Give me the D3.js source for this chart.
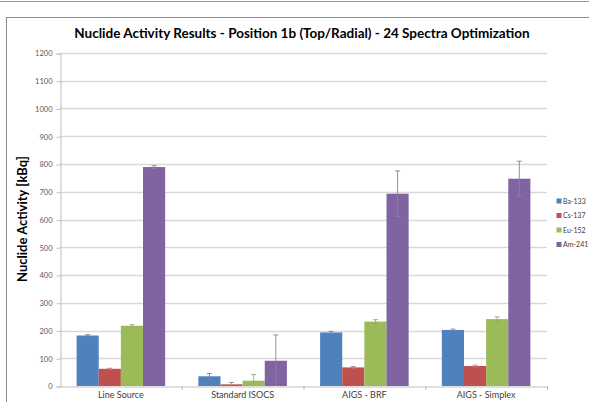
<!DOCTYPE html>
<html>
<head>
<meta charset="utf-8">
<script src="https://cdn.jsdelivr.net/npm/d3@7"></script>
<style>
  html, body { margin: 0; padding: 0; background: #fff; }
  svg { display: block; }
</style>
</head>
<body>
<script>
// Activity measurements per method, one array per nuclide (kBq) with 1-sigma errors
const categories = ["Line Source", "Standard ISOCS", "AIGS - BRF", "AIGS - Simplex"];
const nuclides = ["Ba-133", "Cs-137", "Eu-152", "Am-241"];
const ba133 = [182, 35, 193, 202];
const cs137 = [62, 6, 67, 72];
const eu152 = [217, 19, 232, 241];
const am241 = [789, 91, 693, 747];
const ba133Err = [3, 10, 4, 3];
const cs137Err = [2, 7, 3, 3];
const eu152Err = [4, 22, 7, 8];
const am241Err = [5, 93, 82, 63];
const yTicks = [0, 100, 200, 300, 400, 500, 600, 700, 800, 900, 1000, 1100, 1200];
const colors = ["#4F81BD", "#C0504D", "#9BBB59", "#8064A2"];
const errColors = ["#6f86a6", "#b77a78", "#93a86e", "#8d7ea3"];

const seriesValues = [ba133, cs137, eu152, am241];
const seriesErrors = [ba133Err, cs137Err, eu152Err, am241Err];

const W = 589, H = 402;
const FONT = "Lato, 'Liberation Sans', Arial, sans-serif";
const svg = d3.select("body").append("svg").attr("width", W).attr("height", H);

// outer frames
svg.append("line").attr("x1", 0).attr("x2", W).attr("y1", 1.5).attr("y2", 1.5)
  .attr("stroke", "#9a9a9a").attr("stroke-width", 1);
svg.append("rect").attr("x", 6.5).attr("y", 17.5).attr("width", W).attr("height", H)
  .attr("fill", "#fff").attr("stroke", "#8c8c8c").attr("stroke-width", 1);

const plot = { left: 60, right: 547, top: 53, bottom: 386 };

const x0 = d3.scaleBand().domain(categories).range([plot.left, plot.right]);
const y = d3.scaleLinear().domain([0, 1200]).range([plot.bottom, plot.top]);

// 4 bars per category with a 150% gap between groups
const bw = x0.bandwidth() / 5.5;
const barX = (ci, si) => x0(categories[ci]) + 0.75 * bw + si * bw;

// gridlines
svg.append("g").selectAll("line").data(yTicks.filter(d => d > 0)).join("line")
  .attr("x1", plot.left).attr("x2", plot.right)
  .attr("y1", d => Math.round(y(d)) + 0.5).attr("y2", d => Math.round(y(d)) + 0.5)
  .attr("stroke", "#d9d9d9").attr("stroke-width", 1.3);

// y axis
const yAxis = d3.axisLeft(y).tickValues(yTicks).tickFormat(d3.format("d")).tickSize(4).tickPadding(4);
const gy = svg.append("g").attr("transform", `translate(${plot.left + 0.5},0.5)`).call(yAxis);
gy.select(".domain").attr("stroke", "#bfbfbf");
gy.selectAll(".tick line").attr("stroke", "#bfbfbf");
gy.selectAll(".tick text").attr("fill", "#595959").attr("font-family", FONT)
  .attr("font-size", "7.5px");

// bars
seriesValues.forEach((vals, si) => {
  svg.append("g").selectAll("rect").data(vals).join("rect")
    .attr("x", (d, ci) => barX(ci, si))
    .attr("y", d => y(d))
    .attr("width", bw)
    .attr("height", d => y(0) - y(d))
    .attr("fill", colors[si]);
});

// error bars
seriesValues.forEach((vals, si) => {
  const errs = seriesErrors[si];
  const g = svg.append("g").attr("stroke", errColors[si]).attr("stroke-width", 0.9).attr("fill", "none");
  vals.forEach((v, ci) => {
    const cx = barX(ci, si) + bw / 2;
    const top = y(v + errs[ci]);
    const bot = y(Math.max(0, v - errs[ci]));
    g.append("line").attr("x1", cx).attr("x2", cx).attr("y1", top).attr("y2", bot);
    g.append("line").attr("x1", cx - 2.5).attr("x2", cx + 2.5).attr("y1", top).attr("y2", top);
    if (v - errs[ci] > 0)
      g.append("line").attr("x1", cx - 2.5).attr("x2", cx + 2.5).attr("y1", bot).attr("y2", bot);
  });
});

// x axis
const xAxis = d3.axisBottom(x0).tickSize(0).tickPadding(5);
const gx = svg.append("g").attr("transform", `translate(0,${plot.bottom + 0.5})`).call(xAxis);
gx.select(".domain").attr("stroke", "#bfbfbf");
gx.selectAll(".tick text").attr("fill", "#404040").attr("font-family", FONT)
  .attr("font-size", "9px");
// category separators
const seps = x0.domain().slice(1).map(d => x0(d)).concat([plot.right]);
svg.append("g").selectAll("line").data(seps).join("line")
  .attr("x1", d => d + 0.5).attr("x2", d => d + 0.5)
  .attr("y1", plot.bottom).attr("y2", plot.bottom + 4)
  .attr("stroke", "#bfbfbf");

// title
svg.append("text").attr("x", 302).attr("y", 38).attr("text-anchor", "middle")
  .attr("font-family", FONT).attr("font-weight", "bold").attr("font-size", "13.5px")
  .attr("fill", "#000").text("Nuclide Activity Results - Position 1b (Top/Radial) - 24 Spectra Optimization");

// y-axis title
svg.append("text").attr("transform", "translate(27,219) rotate(-90)").attr("text-anchor", "middle")
  .attr("font-family", FONT).attr("font-weight", "bold").attr("font-size", "13px")
  .attr("fill", "#000").text("Nuclide Activity [kBq]");

// legend
const lg = svg.append("g");
nuclides.forEach((n, i) => {
  const ly = 201 + i * 14.5;
  lg.append("rect").attr("x", 556.5).attr("y", ly - 2.5).attr("width", 5).attr("height", 5).attr("fill", colors[i]);
  lg.append("text").attr("x", 563).attr("y", ly + 2.5).attr("font-family", FONT)
    .attr("font-size", "7px").attr("fill", "#404040").text(n);
});
</script>
</body>
</html>
